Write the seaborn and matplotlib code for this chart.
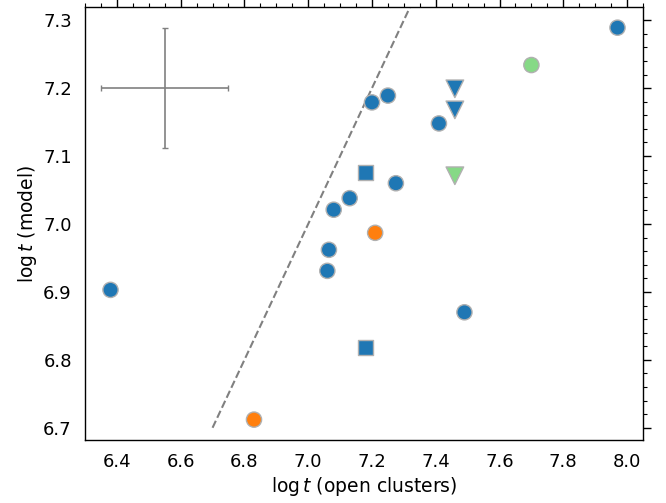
import matplotlib
matplotlib.use("Agg")
import matplotlib.pyplot as plt
import seaborn as sns
import pandas as pd
from matplotlib.ticker import MultipleLocator

sns.set_style("white")
plt.rcParams['font.family'] = ['DejaVu Sans']
plt.rcParams['mathtext.fontset'] = 'dejavusans'

# data
x_oc = [6.38, 7.97, 7.70, 7.46, 7.46, 7.46, 7.41, 7.25, 7.20, 7.18, 7.275,
        7.13, 7.08, 7.21, 7.065, 7.06, 7.49, 7.18, 6.83]
y_model = [6.903, 7.289, 7.234, 7.199, 7.168, 7.071, 7.148, 7.189, 7.179, 7.076, 7.060,
           7.038, 7.021, 6.987, 6.962, 6.931, 6.870, 6.818, 6.712]
group = ["A", "A", "C", "A", "A", "C", "A", "A", "A", "A", "A",
         "A", "A", "B", "A", "A", "A", "A", "B"]
shape = ["circle", "circle", "circle", "tri", "tri", "tri", "circle", "circle", "circle", "square", "circle",
         "circle", "circle", "circle", "circle", "circle", "circle", "square", "circle"]

line_x = [6.7, 7.5]
err_x, err_y = 6.55, 7.20
err_dx, err_dy = 0.20, 0.088

df = pd.DataFrame({"x": x_oc, "y": y_model, "group": group, "shape": shape})

fig = plt.figure(figsize=(6.66, 5.03), dpi=100)
ax = fig.add_axes([85/666, 1-440/503, (643-85)/666, (440-7.3)/503])

ax.plot(line_x, line_x, ls="--", color="gray", lw=1.5, zorder=1)
ax.errorbar([err_x], [err_y], xerr=[err_dx], yerr=[err_dy], fmt="none",
            ecolor="gray", elinewidth=1.2, capsize=2.5, capthick=1.0, zorder=1)

palette = {"A": "#1f77b4", "B": "#ff7f0e", "C": "#86d986"}
markers = {"circle": "o", "tri": "v", "square": "s"}
sizes = {"circle": 120, "square": 120, "tri": 160}
for shp, sub in df.groupby("shape"):
    sns.scatterplot(data=sub, x="x", y="y", hue="group", palette=palette,
                    marker=markers[shp], s=sizes[shp], edgecolor="#b0b0b0",
                    linewidth=1.0, legend=False, ax=ax, zorder=3)

ax.set_xlim(6.3, 8.05)
ax.set_ylim(6.682, 7.319)
ax.xaxis.set_major_locator(MultipleLocator(0.2))
ax.xaxis.set_minor_locator(MultipleLocator(0.05))
ax.yaxis.set_major_locator(MultipleLocator(0.1))
ax.yaxis.set_minor_locator(MultipleLocator(0.02))
ax.tick_params(which="both", top=True, right=True, direction="out", color="black",
               labelsize=13, labelcolor="black")
ax.tick_params(which="major", length=6, width=1.0)
ax.tick_params(which="minor", length=3, width=0.8)
for sp in ax.spines.values():
    sp.set_color("black")
    sp.set_linewidth(1.0)

ax.set_xlabel(r"$\log t$ (open clusters)", fontsize=13.5, color="black", labelpad=3)
ax.set_ylabel(r"$\log t$ (model)", fontsize=13.5, color="black", labelpad=3)

fig.savefig("out.png", dpi=100)
